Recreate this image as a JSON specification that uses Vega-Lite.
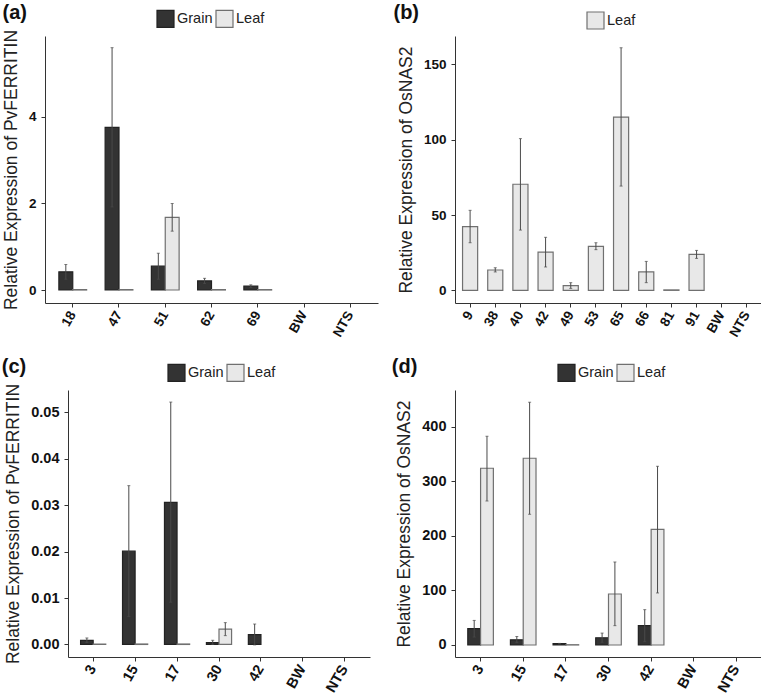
{
  "$schema": "https://vega.github.io/schema/vega-lite/v6.json",
  "padding": {"left": 1, "top": 3, "right": 0, "bottom": 0},
  "background": "white",
  "config": {
    "font": "Liberation Sans",
    "view": {"stroke": null},
    "axis": {"grid": false, "domainColor": "#333333", "tickColor": "#333333", "tickSize": 4, "labelFont": "Liberation Sans", "labelFontSize": 14, "labelFontWeight": "bold", "labelColor": "#111111", "labelPadding": 5, "titleFont": "Liberation Sans", "titleFontSize": 17.5, "titleFontWeight": "normal", "titleColor": "#222222", "titlePadding": 8},
    "legend": {"padding": 0, "labelFont": "Liberation Sans", "labelFontSize": 14.5, "labelColor": "#222222", "labelOffset": 2, "columnPadding": 0, "symbolType": "square", "symbolSize": 289, "symbolStrokeWidth": 1.2, "symbolOpacity": 1, "direction": "horizontal", "orient": "none", "title": null},
    "title": {"font": "Liberation Sans", "fontSize": 20, "fontWeight": "bold", "color": "#111111", "anchor": "start", "frame": "bounds"},
    "tick": {"size": 3, "thickness": 1, "color": "#4a4a4a", "orient": "horizontal"}
  },
  "resolve": {"scale": {"color": "independent", "stroke": "independent", "xOffset": "independent", "x": "independent", "y": "independent"}, "legend": {"color": "independent", "stroke": "independent"}},
  "spacing": 18,
  "vconcat": [
    {
      "spacing": 77,
      "align": "none",
      "bounds": "flush",
      "resolve": {"scale": {"color": "independent", "stroke": "independent", "xOffset": "independent", "x": "independent", "y": "independent"}, "legend": {"color": "independent", "stroke": "independent"}},
      "hconcat": [
        {
          "width": 333, "height": 267,
          "title": {"text": "(a)", "offset": -14},
          "data": {"values": [
            {"line": "18", "tissue": "Grain", "value": 0.42, "lo": 0.25, "hi": 0.59},
            {"line": "18", "tissue": "Leaf", "value": 0.01},
            {"line": "47", "tissue": "Grain", "value": 3.76, "lo": 1.92, "hi": 5.6},
            {"line": "47", "tissue": "Leaf", "value": 0.01},
            {"line": "51", "tissue": "Grain", "value": 0.55, "lo": 0.25, "hi": 0.85},
            {"line": "51", "tissue": "Leaf", "value": 1.68, "lo": 1.36, "hi": 2.0},
            {"line": "62", "tissue": "Grain", "value": 0.21, "lo": 0.15, "hi": 0.27},
            {"line": "62", "tissue": "Leaf", "value": 0.01},
            {"line": "69", "tissue": "Grain", "value": 0.09, "lo": 0.06, "hi": 0.12},
            {"line": "69", "tissue": "Leaf", "value": 0.01}
          ]},
          "encoding": {
            "x": {"field": "line", "type": "nominal", "sort": null, "scale": {"domain": ["18", "47", "51", "62", "69", "BW", "NTS"], "paddingInner": 0.4, "paddingOuter": 0.3}, "axis": {"title": null, "labelAngle": -60, "labelFontSize": 13.5}},
            "xOffset": {"field": "tissue", "type": "nominal", "scale": {"domain": ["Grain", "Leaf"], "paddingInner": 0, "paddingOuter": 0}}
          },
          "layer": [
            {
              "mark": {"type": "bar", "strokeWidth": 1.2},
              "encoding": {
                "y": {"field": "value", "type": "quantitative", "scale": {"domain": [-0.3, 5.87], "nice": false, "zero": false}, "axis": {"values": [0, 2, 4], "labelFontSize": 13.5, "title": "Relative Expression of PvFERRITIN"}},
                "y2": {"datum": 0},
                "color": {"field": "tissue", "type": "nominal", "scale": {"domain": ["Grain", "Leaf"], "range": ["#333333", "#e8e8e8"]}, "legend": {"legendX": 111, "legendY": -27}},
                "stroke": {"field": "tissue", "type": "nominal", "scale": {"domain": ["Grain", "Leaf"], "range": ["#222222", "#707070"]}, "legend": {"legendX": 111, "legendY": -27}}
              }
            },
            {
              "mark": {"type": "rule", "color": "#4a4a4a", "strokeWidth": 1},
              "encoding": {"y": {"field": "lo", "type": "quantitative"}, "y2": {"field": "hi"}}
            },
            {"mark": "tick", "encoding": {"y": {"field": "lo", "type": "quantitative"}}},
            {"mark": "tick", "encoding": {"y": {"field": "hi", "type": "quantitative"}}}
          ]
        },
        {
          "width": 307, "height": 267,
          "title": {"text": "(b)", "offset": -12, "dx": -4},
          "data": {"values": [
            {"line": "9", "tissue": "Leaf", "value": 42.3, "lo": 31.6, "hi": 53.1},
            {"line": "38", "tissue": "Leaf", "value": 13.5, "lo": 12.2, "hi": 15.0},
            {"line": "40", "tissue": "Leaf", "value": 70.4, "lo": 40.0, "hi": 100.7},
            {"line": "42", "tissue": "Leaf", "value": 25.4, "lo": 15.5, "hi": 35.2},
            {"line": "49", "tissue": "Leaf", "value": 3.1, "lo": 1.3, "hi": 5.1},
            {"line": "53", "tissue": "Leaf", "value": 29.2, "lo": 27.0, "hi": 31.6},
            {"line": "65", "tissue": "Leaf", "value": 115.0, "lo": 69.2, "hi": 161.0},
            {"line": "66", "tissue": "Leaf", "value": 12.2, "lo": 5.1, "hi": 19.2},
            {"line": "81", "tissue": "Leaf", "value": 0.3},
            {"line": "91", "tissue": "Leaf", "value": 23.9, "lo": 21.2, "hi": 26.5}
          ]},
          "encoding": {
            "x": {"field": "line", "type": "nominal", "sort": null, "scale": {"domain": ["9", "38", "40", "42", "49", "53", "65", "66", "81", "91", "BW", "NTS"], "paddingInner": 0.4, "paddingOuter": 0.3}, "axis": {"title": null, "labelAngle": -60, "labelFontSize": 13.5}}
          },
          "layer": [
            {
              "mark": {"type": "bar", "strokeWidth": 1.2},
              "encoding": {
                "y": {"field": "value", "type": "quantitative", "scale": {"domain": [-8.4, 168.8], "nice": false, "zero": false}, "axis": {"values": [0, 50, 100, 150], "labelFontSize": 13.5, "title": "Relative Expression of OsNAS2"}},
                "y2": {"datum": 0},
                "color": {"field": "tissue", "type": "nominal", "scale": {"domain": ["Leaf"], "range": ["#e8e8e8"]}, "legend": {"legendX": 131, "legendY": -25}},
                "stroke": {"field": "tissue", "type": "nominal", "scale": {"domain": ["Leaf"], "range": ["#707070"]}, "legend": {"legendX": 131, "legendY": -25}}
              }
            },
            {
              "mark": {"type": "rule", "color": "#4a4a4a", "strokeWidth": 1},
              "encoding": {"y": {"field": "lo", "type": "quantitative"}, "y2": {"field": "hi"}}
            },
            {"mark": "tick", "encoding": {"y": {"field": "lo", "type": "quantitative"}}},
            {"mark": "tick", "encoding": {"y": {"field": "hi", "type": "quantitative"}}}
          ]
        }
      ]
    },
    {
      "spacing": 22,
      "align": "none",
      "bounds": "flush",
      "resolve": {"scale": {"color": "independent", "stroke": "independent", "xOffset": "independent", "x": "independent", "y": "independent"}, "legend": {"color": "independent", "stroke": "independent"}},
      "hconcat": [
        {
          "width": 1, "height": 1,
          "data": {"values": []},
          "mark": "point"
        },
        {
          "spacing": 85,
          "align": "none",
          "bounds": "flush",
          "resolve": {"scale": {"color": "independent", "stroke": "independent", "xOffset": "independent", "x": "independent", "y": "independent"}, "legend": {"color": "independent", "stroke": "independent"}},
          "hconcat": [
            {
              "width": 302, "height": 267,
              "title": {"text": "(c)", "offset": -14, "dx": -3},
              "data": {"values": [
                {"line": "3", "tissue": "Grain", "value": 0.0009, "lo": 0.0004, "hi": 0.0014},
                {"line": "3", "tissue": "Leaf", "value": 0.0001},
                {"line": "15", "tissue": "Grain", "value": 0.0201, "lo": 0.006, "hi": 0.0342},
                {"line": "15", "tissue": "Leaf", "value": 0.0001},
                {"line": "17", "tissue": "Grain", "value": 0.0306, "lo": 0.0091, "hi": 0.0522},
                {"line": "17", "tissue": "Leaf", "value": 0.0001},
                {"line": "30", "tissue": "Grain", "value": 0.0004, "lo": 0.0, "hi": 0.0009},
                {"line": "30", "tissue": "Leaf", "value": 0.0033, "lo": 0.0019, "hi": 0.0047},
                {"line": "42", "tissue": "Grain", "value": 0.0021, "lo": -0.0001, "hi": 0.0044}
              ]},
              "encoding": {
                "x": {"field": "line", "type": "nominal", "sort": null, "scale": {"domain": ["3", "15", "17", "30", "42", "BW", "NTS"], "paddingInner": 0.4, "paddingOuter": 0.3}, "axis": {"title": null, "labelAngle": -60, "labelFontSize": 14.5}},
                "xOffset": {"field": "tissue", "type": "nominal", "scale": {"domain": ["Grain", "Leaf"], "paddingInner": 0, "paddingOuter": 0}}
              },
              "layer": [
                {
                  "mark": {"type": "bar", "strokeWidth": 1.2},
                  "encoding": {
                    "y": {"field": "value", "type": "quantitative", "scale": {"domain": [-0.0027, 0.0548], "nice": false, "zero": false}, "axis": {"values": [0, 0.01, 0.02, 0.03, 0.04, 0.05], "format": ".2f", "labelFontSize": 14.5, "title": "Relative Expression of PvFERRITIN"}},
                    "y2": {"datum": 0},
                    "color": {"field": "tissue", "type": "nominal", "scale": {"domain": ["Grain", "Leaf"], "range": ["#333333", "#e8e8e8"]}, "legend": {"legendX": 99, "legendY": -27}},
                    "stroke": {"field": "tissue", "type": "nominal", "scale": {"domain": ["Grain", "Leaf"], "range": ["#222222", "#707070"]}, "legend": {"legendX": 99, "legendY": -27}}
                  }
                },
                {
                  "mark": {"type": "rule", "color": "#4a4a4a", "strokeWidth": 1},
                  "encoding": {"y": {"field": "lo", "type": "quantitative"}, "y2": {"field": "hi"}}
                },
                {"mark": "tick", "encoding": {"y": {"field": "lo", "type": "quantitative"}}},
                {"mark": "tick", "encoding": {"y": {"field": "hi", "type": "quantitative"}}}
              ]
            },
            {
              "width": 307, "height": 267,
              "title": {"text": "(d)", "offset": -14, "dx": -4},
              "data": {"values": [
                {"line": "3", "tissue": "Grain", "value": 29.8, "lo": 14.5, "hi": 45.0},
                {"line": "3", "tissue": "Leaf", "value": 323.7, "lo": 263.8, "hi": 382.3},
                {"line": "15", "tissue": "Grain", "value": 9.5, "lo": 4.3, "hi": 15.5},
                {"line": "15", "tissue": "Leaf", "value": 342.0, "lo": 239.4, "hi": 444.6},
                {"line": "17", "tissue": "Grain", "value": 2.4, "lo": 1.9, "hi": 2.9},
                {"line": "17", "tissue": "Leaf", "value": 0.5},
                {"line": "30", "tissue": "Grain", "value": 13.3, "lo": 5.0, "hi": 21.8},
                {"line": "30", "tissue": "Leaf", "value": 93.4, "lo": 35.4, "hi": 152.0},
                {"line": "42", "tissue": "Grain", "value": 35.4, "lo": 6.0, "hi": 64.7},
                {"line": "42", "tissue": "Leaf", "value": 211.9, "lo": 95.3, "hi": 327.3}
              ]},
              "encoding": {
                "x": {"field": "line", "type": "nominal", "sort": null, "scale": {"domain": ["3", "15", "17", "30", "42", "BW", "NTS"], "paddingInner": 0.4, "paddingOuter": 0.3}, "axis": {"title": null, "labelAngle": -60, "labelFontSize": 14.5}},
                "xOffset": {"field": "tissue", "type": "nominal", "scale": {"domain": ["Grain", "Leaf"], "paddingInner": 0, "paddingOuter": 0}}
              },
              "layer": [
                {
                  "mark": {"type": "bar", "strokeWidth": 1.2},
                  "encoding": {
                    "y": {"field": "value", "type": "quantitative", "scale": {"domain": [-22, 467], "nice": false, "zero": false}, "axis": {"values": [0, 100, 200, 300, 400], "labelFontSize": 14.5, "title": "Relative Expression of OsNAS2"}},
                    "y2": {"datum": 0},
                    "color": {"field": "tissue", "type": "nominal", "scale": {"domain": ["Grain", "Leaf"], "range": ["#333333", "#e8e8e8"]}, "legend": {"legendX": 102, "legendY": -27}},
                    "stroke": {"field": "tissue", "type": "nominal", "scale": {"domain": ["Grain", "Leaf"], "range": ["#222222", "#707070"]}, "legend": {"legendX": 102, "legendY": -27}}
                  }
                },
                {
                  "mark": {"type": "rule", "color": "#4a4a4a", "strokeWidth": 1},
                  "encoding": {"y": {"field": "lo", "type": "quantitative"}, "y2": {"field": "hi"}}
                },
                {"mark": "tick", "encoding": {"y": {"field": "lo", "type": "quantitative"}}},
                {"mark": "tick", "encoding": {"y": {"field": "hi", "type": "quantitative"}}}
              ]
            }
          ]
        }
      ]
    }
  ]
}
